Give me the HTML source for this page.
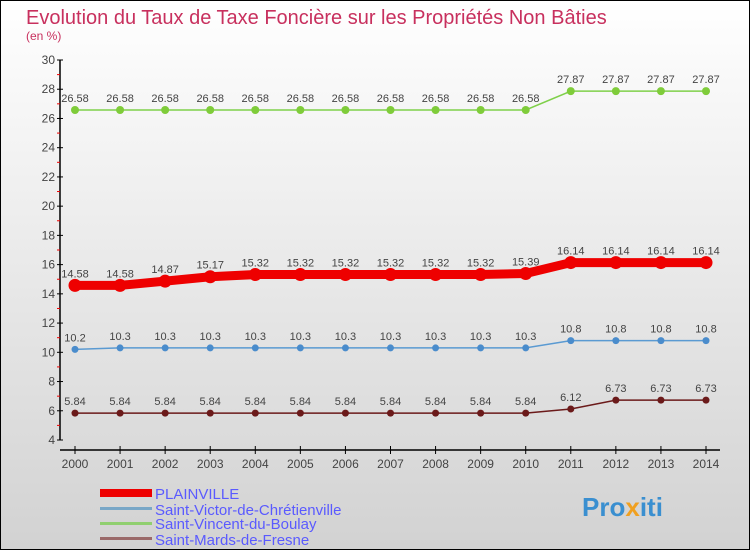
<!DOCTYPE html>
<html><head><meta charset="utf-8"><style>
body{margin:0;width:750px;height:550px;overflow:hidden;font-family:"Liberation Sans",sans-serif}
svg{display:block}
</style></head><body>
<svg id="chart" width="750" height="550" xmlns="http://www.w3.org/2000/svg">
<defs><linearGradient id="bg" x1="0" y1="0" x2="0" y2="1"><stop offset="0" stop-color="#ffffff"/><stop offset="1" stop-color="#d2d2d2"/></linearGradient></defs>
<rect x="0.5" y="0.5" width="749" height="549" fill="url(#bg)" stroke="#000"/>
<text x="26" y="24" font-size="20" fill="#c8305e">Evolution du Taux de Taxe Foncière sur les Propriétés Non Bâties</text>
<text x="26" y="40" font-size="12" fill="#c8305e">(en %)</text>
<g id="axes"></g><g id="series"></g>
<g>
<rect x="100" y="489" width="52" height="8" fill="#e00"/>
<text x="155" y="499" font-size="15" fill="#5a5aff">PLAINVILLE</text>
<rect x="100" y="507" width="52" height="3" fill="#79a7c7"/>
<text x="155" y="515" font-size="15" fill="#5a5aff">Saint-Victor-de-Chrétienville</text>
<rect x="100" y="522" width="52" height="3" fill="#90cf70"/>
<text x="155" y="529" font-size="15" fill="#5a5aff">Saint-Vincent-du-Boulay</text>
<rect x="100" y="537" width="52" height="3" fill="#9a6a6a"/>
<text x="155" y="545" font-size="15" fill="#5a5aff">Saint-Mards-de-Fresne</text>
</g>
<text x="582" y="516" font-size="26" font-weight="bold" fill="#3a8fd0">Pro<tspan fill="#f0a020">x</tspan>iti</text>
</svg>
<script>
const years=[2000,2001,2002,2003,2004,2005,2006,2007,2008,2009,2010,2011,2012,2013,2014];
const plainville=[14.58,14.58,14.87,15.17,15.32,15.32,15.32,15.32,15.32,15.32,15.39,16.14,16.14,16.14,16.14];
const saintVictor=[10.2,10.3,10.3,10.3,10.3,10.3,10.3,10.3,10.3,10.3,10.3,10.8,10.8,10.8,10.8];
const saintVincent=[26.58,26.58,26.58,26.58,26.58,26.58,26.58,26.58,26.58,26.58,26.58,27.87,27.87,27.87,27.87];
const saintMards=[5.84,5.84,5.84,5.84,5.84,5.84,5.84,5.84,5.84,5.84,5.84,6.12,6.73,6.73,6.73];
const yTicks=[4,6,8,10,12,14,16,18,20,22,24,26,28,30];
const NS="http://www.w3.org/2000/svg";
function xs(i){return 75+i*(706-75)/(years.length-1);}
function ys(v){return 440-(v-4)*380/26;}
function mk(t,a,p){const e=document.createElementNS(NS,t);for(const k in a)e.setAttribute(k,a[k]);p.appendChild(e);return e;}
const ax=document.getElementById('axes');
const yl=mk('line',{x1:60,y1:ys(30),x2:60,y2:ys(4),stroke:'#000','stroke-width':1.5},ax);


yTicks.forEach(v=>{
 mk('line',{x1:57,y1:ys(v),x2:63,y2:ys(v),stroke:'#000'},ax);
 mk('line',{x1:57,y1:ys(v+1),x2:60,y2:ys(v+1),stroke:v<30?'#e00':'none'},ax);
 const t=mk('text',{x:55,y:ys(v)+4,'font-size':12,fill:'#444','text-anchor':'end'},ax);t.textContent=v;
 
 
});
const xl=mk('line',{x1:60,y1:450,x2:720,y2:450,stroke:'#000','stroke-width':1.5},ax);


years.forEach((y,i)=>{
 mk('line',{x1:xs(i),y1:446,x2:xs(i),y2:454,stroke:'#000'},ax);
 const t=mk('text',{x:xs(i),y:468,'font-size':12,fill:'#444','text-anchor':'middle'},ax);t.textContent=y;
 
 
});
const sg=document.getElementById('series');
function draw(vals,color,w,r,name,dotColor){
 const g=mk('g',{},sg);
 
 
 const pl=mk('polyline',{points:vals.map((v,i)=>xs(i)+','+ys(v)).join(' '),fill:'none',stroke:color,'stroke-width':w},g);
 
 
 vals.forEach((v,i)=>{
  const c=mk('circle',{cx:xs(i),cy:ys(v),r:r,fill:dotColor},g);
  
  
  const t=mk('text',{x:xs(i),y:ys(v)-8,'font-size':11,fill:'#444','text-anchor':'middle'},g);t.textContent=v;
  
  
 });
}
draw(saintVincent,'#7fd04a',1.5,4,'series-saint-vincent','#7fcc3a');
draw(plainville,'#e00',9,6.5,'series-plainville','#e00');
draw(saintVictor,'#5a9ad2',1.5,3.5,'series-saint-victor','#4a8ccc');
draw(saintMards,'#6b1a1a',1.5,3.5,'series-saint-mards','#6b1a1a');
</script>
</body></html>
